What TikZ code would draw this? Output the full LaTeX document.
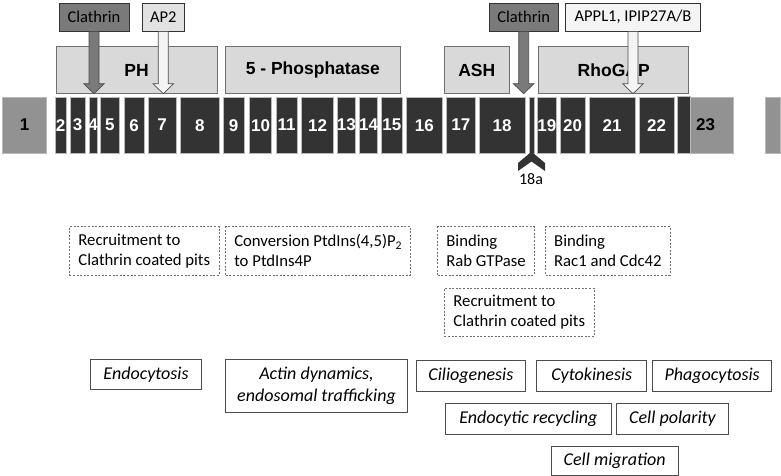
\documentclass[tikz,border=0pt]{standalone}
\usepackage{fontspec}
\setmainfont{Carlito}
\newfontfamily\arialfont{Liberation Sans}
\usepackage{xcolor}
\usepackage{tikz}
\usetikzlibrary{calc}

\definecolor{exondark}{HTML}{333333}
\definecolor{exonlight}{HTML}{929292}
\definecolor{domainfill}{HTML}{D9D9D9}
\definecolor{clathfill}{HTML}{7A7A7A}
\definecolor{apfill}{HTML}{E2E2E2}
\definecolor{applfill}{HTML}{F4F4F4}
\definecolor{edgegray}{HTML}{707070}

\tikzset{
    exon/.style={inner sep=0pt, minimum height=56.3pt, fill=exondark, draw=gray!55,
        line width=0.5pt, text=white, font=\arialfont\bfseries\fontsize{17}{18}\selectfont},
    domainbox/.style={inner sep=0pt, minimum height=46.6pt, fill=domainfill, draw=edgegray,
        line width=0.8pt, font=\arialfont\bfseries\fontsize{17.5}{20}\selectfont},
    binder/.style={inner sep=0pt, minimum height=28pt, draw=black!80, line width=0.7pt,
        font=\fontsize{16.5}{20}\selectfont},
    role/.style={inner sep=0pt, minimum height=48.3pt, draw=edgegray, dashed,
        dash pattern=on 2pt off 1.6pt, line width=0.8pt, align=left,
        font=\fontsize{16.7}{20}\selectfont},
    process/.style={inner sep=0pt, draw=black!70, line width=0.7pt, align=center,
        font=\itshape\fontsize{18}{21.7}\selectfont},
}

% block arrow from a binder box down to the lower edge of a domain box
\newcommand{\blockarrow}[3]{%
    \draw[#1] let \p1=(#2.south), \p2=(#2.south |- #3.south) in
        (\x1-5pt,\y1) -- (\x1-5pt,\y2+10pt) -- (\x1-10.3pt,\y2+10pt) -- (\x1,\y2)
        -- (\x1+10.3pt,\y2+10pt) -- (\x1+5pt,\y2+10pt) -- (\x1+5pt,\y1) -- cycle;
}

\begin{document}
\begin{tikzpicture}[x=1pt, y=-1pt]
    \fill[white] (0,0) rectangle (781,476);
    \useasboundingbox (0,0) rectangle (781,476);

    % exons
    \node[exon, fill=exonlight, text=black, minimum width=44pt] (e1) at (24.7,125.15) {1};
    \foreach \l/\r/\n in {55/66/2, 70/85/3, 89/97.3/4, 100.7/119/5, 124/144.3/6,
        148.3/176/7, 180.7/219/8, 223.3/244/9, 249.3/271.7/10, 276/297.3/11,
        301.7/333.3/12, 337.7/355/13, 359.3/377.7/14, 381.7/402/15, 406/442.7/16,
        446.7/475/17, 479.3/525/18, 537.7/556/19, 560/585/20, 589.3/635/21,
        639/674.3/22}
        \node[exon, minimum width={(\r-\l)*1pt}] (e\n) at ({(\l+\r)/2},125.15)
            {\makebox[0pt]{\n}};
    \node[exon, minimum width=5pt] (e18a) at (531.8,125.15) {};
    \node[exon, fill=exonlight, text=black, minimum width=55.6pt] (e23) at (705.5,125.15) {23};
    \draw[fill=exondark, draw=gray!55, line width=0.5pt] (e23.north west) rectangle (690,153.3);
    \node[exon, fill=exonlight, minimum width=15pt] (tail) at (772.5,125.15) {};

    % exon 18a marker
    \fill[exondark] (531.5,151.7) -- (545,163) -- (545,171) -- (531.5,161.5)
        -- (518,171) -- (518,163) -- cycle;
    \node[font=\fontsize{16}{18}\selectfont] (lab18a) at (531,179) {18a};

    % domains
    \node[domainbox, minimum width=161.3pt] (ph) at (136.65,70) {PH};
    \node[domainbox, minimum width=174.3pt] (phos) at (312.85,70) {5 - Phosphatase};
    \node[domainbox, minimum width=65pt] (ash) at (476.8,70) {ASH};
    \node[domainbox, minimum width=150pt] (rhogap) at (613.7,70) {RhoGAP};

    % binding partners
    \node[binder, fill=clathfill, minimum width=70pt] (clath1) at (94,17.3) {Clathrin};
    \node[binder, fill=apfill, minimum width=42pt] (ap2) at (163.3,17.3) {AP2};
    \node[binder, fill=clathfill, minimum width=69.3pt] (clath2) at (523.65,17.3) {Clathrin};
    \node[binder, fill=applfill, minimum width=135.4pt] (appl) at (633,17.3) {APPL1, IPIP27A/B};

    \blockarrow{fill=clathfill, draw=black!70, line width=0.7pt}{clath1}{ph}
    \blockarrow{fill=applfill, draw=black!70, line width=0.7pt}{ap2}{ph}
    \blockarrow{fill=clathfill, draw=black!70, line width=0.7pt}{clath2}{rhogap}
    \blockarrow{fill=applfill, draw=black!70, line width=0.7pt}{appl}{rhogap}

    % domain roles
    \node[role, minimum width=150pt] (recruit1) at (144.3,250.85) {Recruitment to\\Clathrin coated pits};
    \node[role, minimum width=185pt] (conv) at (318.2,250.85) {Conversion PtdIns(4,5)P\textsubscript{2}\\to PtdIns4P};
    \node[role, minimum width=96.6pt] (rab) at (486,250.85) {Binding\\Rab GTPase};
    \node[role, minimum width=124.3pt] (rac) at (607.85,250.85) {Binding\\Rac1 and Cdc42};
    \node[role, minimum width=150pt] (recruit2) at (519.3,312.5) {Recruitment to\\Clathrin coated pits};

    % cellular processes
    \node[process, minimum width=110.6pt, minimum height=30pt] (endo) at (146,374.3) {Endocytosis};
    \node[process, minimum width=181.6pt, minimum height=52.7pt] (actin) at (316.5,385.65) {Actin dynamics,\\endosomal trafficking};
    \node[process, minimum width=109.7pt, minimum height=30.3pt] (cilio) at (470.85,375.85) {Ciliogenesis};
    \node[process, minimum width=110pt, minimum height=30.3pt] (cyto) at (591.7,375.85) {Cytokinesis};
    \node[process, minimum width=119pt, minimum height=30.3pt] (phago) at (712.2,375.85) {Phagocytosis};
    \node[process, minimum width=165.3pt, minimum height=31pt] (recyc) at (528.35,418.8) {Endocytic recycling};
    \node[process, minimum width=111.6pt, minimum height=31pt] (polar) at (672.5,418.8) {Cell polarity};
    \node[process, minimum width=127.3pt, minimum height=29pt] (migr) at (614.65,460.5) {Cell migration};
\end{tikzpicture}
\end{document}
